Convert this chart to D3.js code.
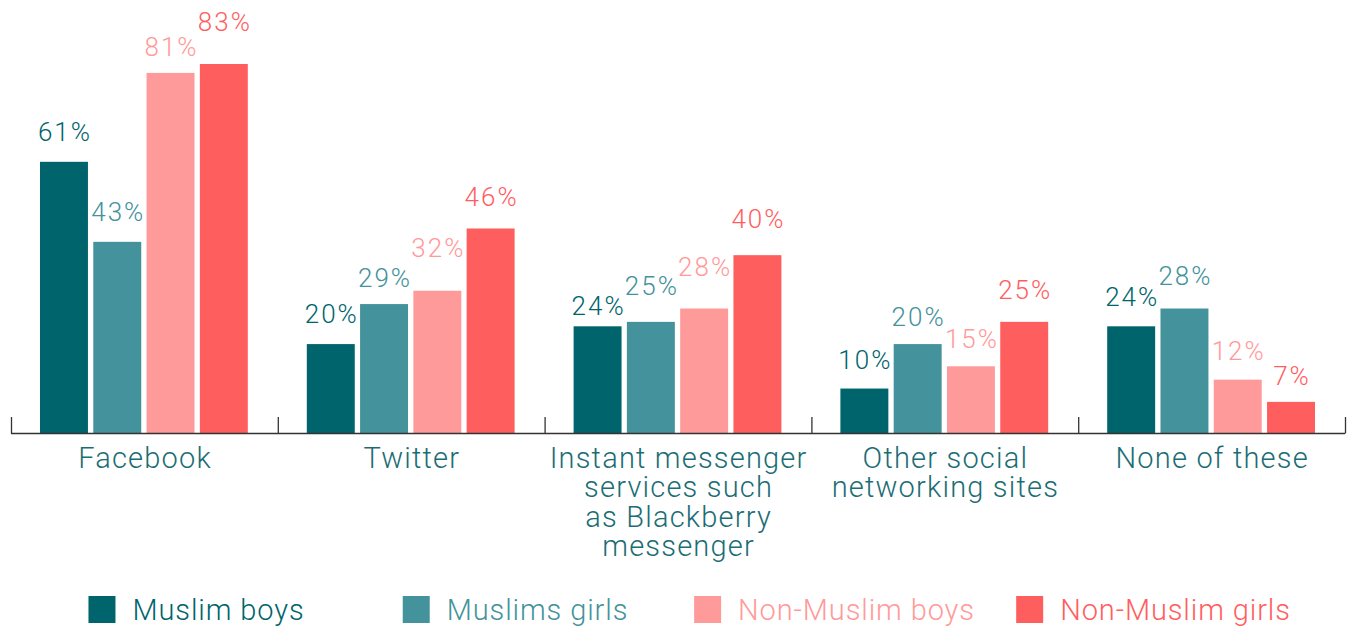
<!DOCTYPE html>
<html><head><meta charset="utf-8">
<script src="https://cdn.jsdelivr.net/npm/d3@7"></script>
<style>
html,body{margin:0;padding:0;background:#fff;}
svg{display:block;font-family:"Roboto","Liberation Sans",sans-serif;font-weight:300;}
</style></head>
<body>
<svg id="chart" width="1350" height="628"></svg>
<script>
// ---- data ----
const categories = ["Facebook", "Twitter", "Instant messenger services such as Blackberry messenger", "Other social networking sites", "None of these"];
const categoryLines = [["Facebook"], ["Twitter"], ["Instant messenger", "services such", "as Blackberry", "messenger"], ["Other social", "networking sites"], ["None of these"]];
const seriesNames = ["Muslim boys", "Muslims girls", "Non-Muslim boys", "Non-Muslim girls"];
const muslimBoys     = [61, 20, 24, 10, 24];
const muslimGirls    = [43, 29, 25, 20, 28];
const nonMuslimBoys  = [81, 32, 28, 15, 12];
const nonMuslimGirls = [83, 46, 40, 25, 7];
const seriesValues = [muslimBoys, muslimGirls, nonMuslimBoys, nonMuslimGirls];

// ---- layout / style ----
const colors = ["#00646c", "#43929c", "#ff9a9b", "#ff5e5f"];
const textColor = "#1b6d75";
// small extra lift of some value labels (px), as in the original
const labelLift = [
  [0, 0, -4, 12],
  [0, -4, 13, 1],
  [-10, 6, 12, 6],
  [-1, -3, -3, 2],
  [-1, 3, -1, -4]
];

const svg = d3.select("#chart");
const W = 1350;
const axisY = 433;

const x0 = d3.scaleBand().domain(categories).range([11, 1345]).padding(0);
const x1 = d3.scaleBand().domain(seriesNames).range([29, x0.bandwidth() - 30]).paddingInner(0.1).paddingOuter(0);
const y = d3.scaleLinear().domain([0, d3.max(seriesValues.flat())]).range([axisY, 64]);
const color = d3.scaleOrdinal().domain(seriesNames).range(colors);

const rows = [];
categories.forEach((c, ci) => seriesNames.forEach((s, si) => rows.push({c, ci, s, si, v: seriesValues[si][ci]})));

// bars
svg.append("g").selectAll("rect").data(rows).join("rect")
  .attr("x", d => x0(d.c) + x1(d.s))
  .attr("y", d => y(d.v))
  .attr("width", x1.bandwidth())
  .attr("height", d => axisY - y(d.v))
  .attr("fill", d => color(d.s));

// value labels
svg.append("g").selectAll("text").data(rows).join("text")
  .attr("x", d => x0(d.c) + x1(d.s) + x1.bandwidth() / 2 + 1)
  .attr("y", d => y(d.v) - 21 - labelLift[d.ci][d.si])
  .attr("text-anchor", "middle")
  .attr("font-size", 26)
  .attr("letter-spacing", 2)
  .attr("fill", d => color(d.s))
  .text(d => d.v + "%");

// axis
const axis = svg.append("g");
axis.append("line").attr("x1", x0.range()[0]).attr("x2", x0.range()[1])
  .attr("y1", axisY + 0.5).attr("y2", axisY + 0.5).attr("stroke", "#333").attr("stroke-width", 1.3);
const tickXs = categories.map(c => x0(c)).concat([x0.range()[1]]);
axis.selectAll("line.tick").data(tickXs).join("line").attr("class", "tick")
  .attr("x1", d => d + 0.5).attr("x2", d => d + 0.5)
  .attr("y1", axisY - 16).attr("y2", axisY + 0.5)
  .attr("stroke", "#333").attr("stroke-width", 1.3);

// category labels
const catG = svg.append("g");
categories.forEach((c, ci) => {
  const cx = x0(c) + x0.bandwidth() / 2 + 0.6;
  const t = catG.append("text")
    .attr("x", cx)
    .attr("y", 468)
    .attr("text-anchor", "middle")
    .attr("font-size", 29)
    .attr("letter-spacing", 1.2)
    .attr("fill", textColor);
  categoryLines[ci].forEach((ln, li) => {
    t.append("tspan").attr("x", cx).attr("y", 468 + li * 29.3).text(ln);
  });
});

// legend
const legend = svg.append("g");
const spacing = 319;
const centerX = W / 2;
seriesNames.forEach((s, i) => {
  const g = legend.append("g");
  const txt = g.append("text").attr("x", 44).attr("y", 620)
    .attr("font-size", 29).attr("letter-spacing", 0.9).attr("fill", color(s)).text(s);
  const tw = txt.node().getComputedTextLength();
  g.append("rect").attr("x", 0).attr("y", 596).attr("width", 27).attr("height", 27).attr("fill", color(s));
  const cx = centerX + (i - 1.5) * spacing;
  g.attr("transform", `translate(${cx - (44 + tw) / 2},0)`);
});
</script>
</body></html>
